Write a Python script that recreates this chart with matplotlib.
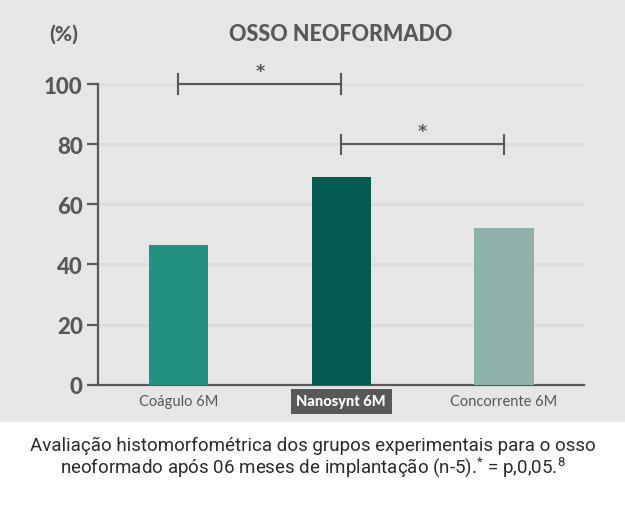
import matplotlib
matplotlib.use("Agg")
import matplotlib.pyplot as plt
from matplotlib.patches import Rectangle

# data
grupos = ["Coágulo 6M", "Nanosynt 6M", "Concorrente 6M"]
valores = [46.5, 69.1, 52.2]
cores = ["#22917f", "#035b51", "#8fb1ac"]
yticks = [0, 20, 40, 60, 80, 100]
# significance brackets: (from group, to group, height)
brackets = [(0, 1, 100), (1, 2, 80)]

cinza = "#58585a"
fundo = "#e6e6e6"

plt.rcParams["font.family"] = ["Lato", "DejaVu Sans"]
plt.rcParams["mathtext.fontset"] = "custom"
plt.rcParams["mathtext.rm"] = "Roboto"

fig = plt.figure(figsize=(6.25, 5.1), dpi=100)
fig.patches.append(Rectangle((0, 0.1706), 1, 1 - 0.1706, transform=fig.transFigure,
                             facecolor=fundo, edgecolor="none", zorder=-10))

ax = fig.add_axes([0.1568, 0.2437, 0.7776, 0.5896])
ax.set_facecolor("none")

x = list(range(len(grupos)))
ax.bar(x, valores, width=0.365, color=cores, zorder=3)

ax.set_xlim(-0.494, 2.491)
ax.set_ylim(0, 100)
ax.set_yticks(yticks)
ax.set_yticklabels([str(v) for v in yticks], fontsize=16, fontweight="black", color=cinza)
for v in yticks[1:]:
    ax.axhline(v, color="#dbdbdb", lw=2, zorder=1)

for s in ["top", "right"]:
    ax.spines[s].set_visible(False)
for s in ["left", "bottom"]:
    ax.spines[s].set_color(cinza)
    ax.spines[s].set_linewidth(1.6)
ax.tick_params(axis="y", length=8, width=1.6, color=cinza, pad=3)
ax.tick_params(axis="x", length=0, pad=7)

ax.set_xticks(x)
ax.set_xticklabels(grupos, fontsize=10.5, color=cinza)
lbl = ax.get_xticklabels()[1]
lbl.set_color("white")
lbl.set_fontweight("black")
lbl.set_bbox(dict(facecolor=cinza, edgecolor="none", pad=4))

for a, b, h in brackets:
    ax.plot([a, b], [h, h], color=cinza, lw=1.5, clip_on=False, zorder=4)
    for xx in (a, b):
        ax.plot([xx, xx], [h - 3.2, h + 3.2], color=cinza, lw=1.5, clip_on=False, zorder=4)
    ax.text((a + b) / 2, h + 1.5, "*", ha="center", va="bottom", fontsize=12.5,
            fontweight="bold", color=cinza, clip_on=False, family="DejaVu Sans")

fig.text(0.1024, 0.9333, "(%)", ha="center", va="center", fontsize=15,
         fontweight="black", color=cinza)
fig.text(0.5456, 0.9333, "OSSO NEOFORMADO", ha="center", va="center", fontsize=15.5,
         fontweight="black", color=cinza)

cap_font = ["Roboto", "DejaVu Sans"]
fig.text(0.5, 0.125, "Avaliação histomorfométrica dos grupos experimentais para o osso",
         ha="center", va="center", fontsize=13.5, color="#2b2b2b", family=cap_font)
fig.text(0.5, 0.082, "neoformado após 06 meses de implantação (n-5).$^{*}$ = p,0,05.$^{8}$",
         ha="center", va="center", fontsize=13.5, color="#2b2b2b", family=cap_font)

fig.savefig("out.png", dpi=100, facecolor="white")
